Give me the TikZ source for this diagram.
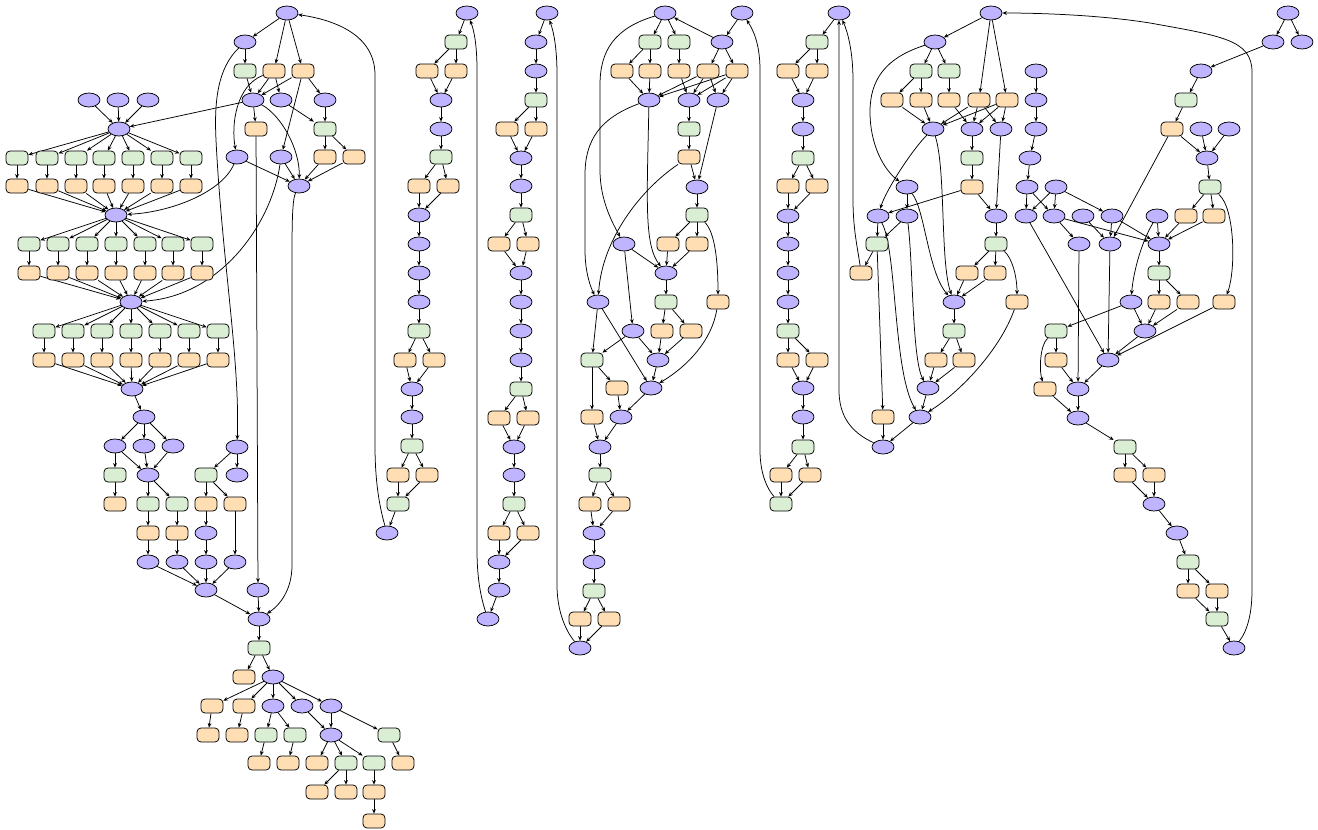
\documentclass[tikz,border=0pt]{standalone}
\usetikzlibrary{shapes.geometric,arrows.meta}
\definecolor{pfill}{RGB}{190,180,255}
\definecolor{gfill}{RGB}{218,238,212}
\definecolor{ofill}{RGB}{255,222,180}
\pgfdeclarelayer{bg}
\pgfsetlayers{bg,main}
\newcommand\mkP[3]{\node[pn] (#1) at (#2,#3) {};}
\newcommand\mkG[3]{\node[gn] (#1) at (#2,#3) {};}
\newcommand\mkO[3]{\node[on] (#1) at (#2,#3) {};}
\begin{document}
\begin{tikzpicture}[x=1pt,y=-1pt,
  pn/.style={ellipse,draw=black,fill=pfill,line width=0.75pt,minimum width=22pt,minimum height=14pt,inner sep=0pt},
  gn/.style={rectangle,rounded corners=4pt,draw=black,fill=gfill,line width=0.75pt,minimum width=22pt,minimum height=14pt,inner sep=0pt},
  on/.style={rectangle,rounded corners=4pt,draw=black,fill=ofill,line width=0.75pt,minimum width=22pt,minimum height=14pt,inner sep=0pt},
  e/.style={-{Stealth[length=4.5pt,width=3.8pt]},line width=0.75pt,black}]
\useasboundingbox (0,0) rectangle (1318,830);
% ---------- left cluster
\mkP{l0}{287}{13}\mkP{l1}{245}{42}\mkG{l2}{245}{71}\mkO{l3}{274}{71}\mkO{l4}{303}{71}
\mkP{l5}{253}{100}\mkP{l6}{281}{100}\mkP{l7}{325}{100}\mkO{l8}{256}{129}\mkG{l9}{325}{129}
\mkP{l10}{237}{157}\mkP{l11}{281}{157}\mkO{l12}{325}{157}\mkO{l13}{354}{157}\mkP{l14}{299}{186}
\mkP{t1}{89}{100}\mkP{t2}{118}{100}\mkP{t3}{148}{100}
\mkP{b1}{119}{129}\mkP{b2}{116}{215}\mkP{b3}{131}{302}\mkP{b4}{132}{389}
\foreach \x [count=\i] in {17,47,76,104,133,162,191}{\mkG{ha\i}{\x}{158}\mkO{hb\i}{\x}{186}}
\foreach \x [count=\i] in {29,58,87,116,145,173,202}{\mkG{hc\i}{\x}{244}\mkO{hd\i}{\x}{273}}
\foreach \x [count=\i] in {44,73,102,131,160,189,218}{\mkG{he\i}{\x}{331}\mkO{hf\i}{\x}{360}}
\mkP{c1}{144}{417}
\mkP{d1}{115}{446}\mkP{d2}{144}{446}\mkP{d3}{173}{446}
\mkG{d4}{115}{475}\mkO{d5}{115}{504}
\mkP{e1}{148}{475}\mkG{e2}{148}{504}\mkG{e3}{177}{504}
\mkO{e4}{148}{533}\mkO{e5}{177}{533}\mkP{e6}{148}{562}\mkP{e7}{177}{562}
\mkP{x0}{237}{447}\mkG{x1}{206}{475}\mkP{x2}{237}{475}
\mkO{x3}{206}{504}\mkO{x4}{235}{504}\mkP{x5}{206}{533}\mkP{x6}{206}{562}\mkP{x7}{235}{562}
\mkP{h0}{206}{590}\mkP{k0}{258}{590}\mkP{j0}{259}{619}\mkG{j1}{259}{648}
\mkO{j2}{244}{677}\mkP{j3}{273}{677}
\mkO{m1}{212}{706}\mkO{m2}{244}{706}\mkP{m3}{273}{706}\mkP{m4}{302}{706}\mkP{m5}{331}{706}
\mkO{n1}{208}{735}\mkO{n2}{237}{735}\mkG{n3}{266}{735}\mkG{n4}{295}{735}\mkP{n5}{331}{735}\mkG{n6}{389}{735}
\mkO{r1}{259}{763}\mkO{r2}{288}{763}\mkO{r3}{317}{763}\mkG{r4}{346}{763}\mkG{r5}{374}{763}\mkO{r6}{403}{763}
\mkO{s1}{317}{792}\mkO{s2}{346}{792}\mkO{s3}{374}{792}\mkO{s4}{374}{821}
% ---------- column 2
\mkP{q0}{467}{13}\mkG{q1}{456}{42}\mkO{q2}{427}{71}\mkO{q3}{456}{71}\mkP{q4}{441}{100}
\mkP{q5}{441}{129}\mkG{q6}{441}{157}\mkO{q7}{419}{186}\mkO{q8}{448}{186}\mkP{q9}{419}{215}
\mkP{q10}{419}{244}\mkP{q11}{419}{273}\mkP{q12}{419}{302}\mkG{q13}{419}{331}
\mkO{q14}{405}{360}\mkO{q15}{434}{360}\mkP{q16}{412}{389}\mkP{q17}{412}{417}\mkG{q18}{412}{446}
\mkO{q19}{398}{475}\mkO{q20}{427}{475}\mkG{q21}{398}{504}\mkP{q22}{387}{533}
% ---------- column 3
\mkP{ca0}{547}{13}\mkP{ca1}{536}{42}\mkP{ca2}{536}{71}\mkG{ca3}{536}{100}
\mkO{ca4}{507}{129}\mkO{ca5}{536}{129}\mkP{ca6}{521}{158}\mkP{ca7}{521}{186}\mkG{ca8}{521}{215}
\mkO{ca9}{499}{244}\mkO{ca10}{528}{244}\mkP{ca11}{521}{273}\mkP{ca12}{521}{302}\mkP{ca13}{521}{331}
\mkP{ca14}{521}{360}\mkG{ca15}{521}{389}\mkO{ca16}{499}{418}\mkO{ca17}{528}{418}
\mkP{ca18}{514}{447}\mkP{ca19}{514}{475}\mkG{ca20}{514}{504}\mkO{ca21}{499}{533}\mkO{ca22}{528}{533}
\mkP{ca23}{499}{562}\mkP{ca24}{499}{590}\mkP{ca25}{488}{619}
% ---------- column 4
\mkP{cb0}{665}{13}\mkP{cb1}{742}{13}\mkG{cb2}{650}{42}\mkG{cb3}{679}{42}\mkP{cb4}{722}{42}
\mkO{cb5}{622}{71}\mkO{cb6}{650}{71}\mkO{cb7}{679}{71}\mkO{cb8}{708}{71}\mkO{cb9}{737}{71}
\mkP{cb10}{649}{100}\mkP{cb11}{689}{100}\mkP{cb12}{718}{100}\mkG{cb13}{689}{129}\mkO{cb14}{689}{157}
\mkP{cb15}{697}{187}\mkG{cb16}{697}{215}\mkO{cb17}{668}{244}\mkO{cb18}{697}{244}\mkP{cb19}{624}{244}
\mkP{cb20}{666}{273}\mkP{cb21}{598}{302}\mkG{cb22}{666}{302}\mkO{cb23}{718}{302}
\mkP{cb24}{633}{331}\mkO{cb25}{662}{331}\mkO{cb26}{691}{331}\mkG{cb27}{592}{360}\mkP{cb28}{658}{360}
\mkO{cb29}{617}{388}\mkP{cb30}{651}{388}\mkO{cb31}{592}{417}\mkP{cb32}{621}{417}
\mkP{cb33}{600}{447}\mkG{cb34}{600}{475}\mkO{cb35}{590}{504}\mkO{cb36}{619}{504}
\mkP{cb37}{594}{533}\mkP{cb38}{594}{562}\mkG{cb39}{594}{591}\mkO{cb40}{580}{619}\mkO{cb41}{609}{619}
\mkP{cb42}{580}{648}
% ---------- column 5
\mkP{cc0}{839}{13}\mkG{cc1}{817}{42}\mkO{cc2}{788}{71}\mkO{cc3}{817}{71}\mkP{cc4}{803}{100}
\mkP{cc5}{803}{129}\mkG{cc6}{803}{158}\mkO{cc7}{788}{186}\mkO{cc8}{817}{186}\mkP{cc9}{788}{216}
\mkP{cc10}{788}{244}\mkP{cc11}{788}{273}\mkP{cc12}{788}{302}\mkG{cc13}{788}{331}
\mkO{cc14}{788}{360}\mkO{cc15}{817}{360}\mkP{cc16}{803}{388}\mkP{cc17}{803}{417}\mkG{cc18}{803}{447}
\mkO{cc19}{781}{475}\mkO{cc20}{810}{475}\mkG{cc21}{781}{504}
% ---------- right cluster
\mkP{cd0}{991}{13}\mkP{cd1}{935}{42}\mkG{cd2}{921}{71}\mkG{cd3}{949}{71}
\mkO{cd4}{892}{100}\mkO{cd5}{921}{100}\mkO{cd6}{949}{100}\mkO{cd7}{979}{100}\mkO{cd8}{1007}{100}
\mkP{cd9}{933}{129}\mkP{cd10}{972}{129}\mkP{cd11}{1001}{129}\mkG{cd12}{972}{158}\mkO{cd13}{972}{187}
\mkP{cd14}{907}{187}\mkP{cd15}{878}{216}\mkP{cd16}{907}{216}\mkP{cd17}{996}{216}
\mkG{cd18}{877}{244}\mkG{cd19}{996}{244}\mkO{cd20}{861}{273}\mkO{cd21}{967}{273}\mkO{cd22}{995}{273}
\mkP{cd23}{954}{302}\mkO{cd24}{1017}{302}\mkG{cd25}{954}{331}\mkO{cd26}{936}{360}\mkO{cd27}{964}{360}
\mkP{cd28}{928}{388}\mkO{cd29}{883}{417}\mkP{cd30}{920}{417}\mkP{cd31}{883}{447}
% ---------- far right
\mkP{ce0}{1036}{71}\mkP{ce1}{1036}{100}\mkP{ce2}{1036}{129}\mkP{ce3}{1030}{158}
\mkP{ce4}{1027}{187}\mkP{ce5}{1056}{187}\mkP{ce6}{1026}{216}\mkP{ce7}{1054}{216}\mkP{ce8}{1083}{216}
\mkP{ce9}{1112}{216}\mkP{ce10}{1157}{216}\mkP{ce11}{1079}{244}\mkP{ce12}{1110}{244}\mkP{ce13}{1159}{244}
\mkG{ce14}{1159}{273}\mkP{ce15}{1131}{302}\mkO{ce16}{1159}{302}\mkO{ce17}{1188}{302}\mkO{ce18}{1224}{302}
\mkG{ce19}{1056}{331}\mkP{ce20}{1145}{331}\mkO{ce21}{1056}{360}\mkP{ce22}{1108}{360}
\mkO{ce23}{1045}{389}\mkP{ce24}{1078}{389}\mkP{ce25}{1078}{418}\mkG{ce26}{1125}{447}
\mkO{ce27}{1125}{475}\mkO{ce28}{1154}{475}\mkP{ce29}{1154}{504}\mkP{ce30}{1177}{533}
\mkG{ce31}{1188}{562}\mkO{ce32}{1188}{591}\mkO{ce33}{1217}{591}\mkG{ce34}{1217}{619}\mkP{ce35}{1234}{648}
\mkP{w0}{1288}{13}\mkP{w1}{1273}{42}\mkP{w2}{1302}{42}\mkP{w3}{1201}{71}\mkG{w4}{1186}{100}
\mkO{w5}{1172}{129}\mkP{w6}{1201}{129}\mkP{w7}{1229}{129}\mkP{w8}{1207}{158}\mkG{w9}{1210}{187}
\mkO{w10}{1186}{216}\mkO{w11}{1214}{216}
% ================= edges
\begin{pgfonlayer}{bg}
\foreach \i in {1,...,7}{
  \draw[e] (b1) -- (ha\i); \draw[e] (ha\i) -- (hb\i); \draw[e] (hb\i) -- (b2);
  \draw[e] (b2) -- (hc\i); \draw[e] (hc\i) -- (hd\i); \draw[e] (hd\i) -- (b3);
  \draw[e] (b3) -- (he\i); \draw[e] (he\i) -- (hf\i); \draw[e] (hf\i) -- (b4);}
\foreach \a/\b in {l0/l1,l0/l3,l0/l4,l1/l2,l2/l5,l3/l5,l4/l5,l3/l6,l4/l7,l4/l11,l5/l8,l5/b1,
  l6/l9,l7/l9,l9/l12,l9/l13,l12/l14,l13/l14,l10/l14,l11/l14,l8/k0,t1/b1,t2/b1,t3/b1,
  b4/c1,c1/d1,c1/d2,c1/d3,d1/d4,d4/d5,d1/e1,d2/e1,d3/e1,e1/e2,e1/e3,e2/e4,e3/e5,e4/e6,e5/e7,
  x0/x1,x0/x2,x1/x3,x1/x4,x3/x5,x5/x6,x4/x7,e6/h0,e7/h0,x6/h0,x7/h0,h0/j0,k0/j0,j0/j1,
  j1/j2,j1/j3,j3/m1,j3/m2,j3/m3,j3/m4,j3/m5,m1/n1,m2/n2,m3/n3,m3/n4,m4/n5,m5/n5,m5/n6,
  n3/r1,n4/r2,n5/r3,n5/r4,n5/r5,n6/r6,r4/s1,r4/s2,r5/s3,s3/s4}
  \draw[e] (\a) -- (\b);
\foreach \a/\b in {q0/q1,q1/q2,q1/q3,q2/q4,q3/q4,q4/q5,q5/q6,q6/q7,q6/q8,q7/q9,q8/q9,q9/q10,
  q10/q11,q11/q12,q12/q13,q13/q14,q13/q15,q14/q16,q15/q16,q16/q17,q17/q18,q18/q19,q18/q20,
  q19/q21,q20/q21,q21/q22,
  ca0/ca1,ca1/ca2,ca2/ca3,ca3/ca4,ca3/ca5,ca4/ca6,ca5/ca6,ca6/ca7,ca7/ca8,ca8/ca9,ca8/ca10,
  ca9/ca11,ca10/ca11,ca11/ca12,ca12/ca13,ca13/ca14,ca14/ca15,ca15/ca16,ca15/ca17,ca16/ca18,
  ca17/ca18,ca18/ca19,ca19/ca20,ca20/ca21,ca20/ca22,ca21/ca23,ca22/ca23,ca23/ca24,ca24/ca25}
  \draw[e] (\a) -- (\b);
\foreach \a/\b in {cb0/cb2,cb0/cb3,cb1/cb4,cb4/cb0,cb4/cb8,cb4/cb9,cb2/cb5,cb2/cb6,cb3/cb7,
  cb5/cb10,cb6/cb10,cb7/cb11,cb8/cb10,cb8/cb11,cb8/cb12,cb9/cb10,cb9/cb11,cb9/cb12,cb11/cb13,
  cb13/cb14,cb14/cb15,cb12/cb15,cb15/cb16,cb16/cb17,cb16/cb18,cb19/cb20,cb17/cb20,cb18/cb20,
  cb20/cb22,cb19/cb24,cb21/cb27,cb21/cb30,cb22/cb25,cb22/cb26,cb24/cb27,cb24/cb28,cb25/cb28,
  cb26/cb28,cb28/cb30,cb27/cb31,cb27/cb29,cb29/cb32,cb30/cb32,cb31/cb33,cb32/cb33,cb33/cb34,
  cb34/cb35,cb34/cb36,cb35/cb37,cb36/cb37,cb37/cb38,cb38/cb39,cb39/cb40,cb39/cb41,cb40/cb42,
  cb41/cb42,
  cc0/cc1,cc1/cc2,cc1/cc3,cc2/cc4,cc3/cc4,cc4/cc5,cc5/cc6,cc6/cc7,cc6/cc8,cc7/cc9,cc8/cc9,
  cc9/cc10,cc10/cc11,cc11/cc12,cc12/cc13,cc13/cc14,cc13/cc15,cc14/cc16,cc15/cc16,cc16/cc17,
  cc17/cc18,cc18/cc19,cc18/cc20,cc19/cc21,cc20/cc21}
  \draw[e] (\a) -- (\b);
\foreach \a/\b in {cd0/cd1,cd0/cd7,cd0/cd8,cd1/cd2,cd1/cd3,cd2/cd4,cd2/cd5,cd3/cd6,cd4/cd9,
  cd5/cd9,cd6/cd10,cd7/cd9,cd7/cd10,cd7/cd11,cd8/cd9,cd8/cd10,cd8/cd11,cd10/cd12,cd12/cd13,
  cd13/cd15,cd13/cd17,cd11/cd17,cd14/cd16,cd15/cd18,cd16/cd18,cd17/cd19,cd19/cd21,cd19/cd22,
  cd21/cd23,cd22/cd23,cd23/cd25,cd25/cd26,cd25/cd27,cd26/cd28,cd27/cd28,cd28/cd30,cd18/cd20,
  cd18/cd29,cd29/cd31,cd30/cd31,
  w0/w1,w0/w2,w1/w3,w3/w4,w4/w5,w5/w8,w6/w8,w7/w8,w5/ce12,w8/w9,w9/w10,w9/w11,w10/ce13,
  w11/ce13,ce0/ce1,ce1/ce2,ce2/ce3,ce3/ce4,ce4/ce6,ce4/ce7,ce5/ce6,ce5/ce7,ce5/ce9,ce6/ce22,
  ce7/ce11,ce7/ce13,ce8/ce12,ce9/ce12,ce9/ce13,ce10/ce13,ce11/ce24,ce12/ce22,ce13/ce14,
  ce14/ce16,ce14/ce17,ce15/ce20,ce16/ce20,ce17/ce20,ce15/ce19,ce20/ce22,ce18/ce22,ce19/ce21,
  ce21/ce24,ce22/ce24,ce24/ce25,ce23/ce25,ce25/ce26,ce26/ce27,ce26/ce28,ce27/ce29,ce28/ce29,
  ce29/ce30,ce30/ce31,ce31/ce32,ce31/ce33,ce32/ce34,ce33/ce34,ce34/ce35}
  \draw[e] (\a) -- (\b);
% curved connectors
\draw[e] (l3) .. controls (236,86) and (231,125) .. (l10);
\draw[e] (l1) .. controls (218,68) and (214,100) .. (216,140) .. controls (222,260) and (240,360) .. (x0);
\draw[e] (l5) .. controls (282,116) and (300,150) .. (l14);
\draw[e] (l10) .. controls (222,192) and (172,212) .. (b2);
\draw[e] (l11) .. controls (272,222) and (222,296) .. (b3);
\draw[e] (l14) .. controls (292,200) and (292,230) .. (292,260) -- (292,565) .. controls (292,590) and (280,605) .. (j0);
\draw[e] (q22) .. controls (379,505) and (375,480) .. (375,445) -- (375,75) .. controls (375,35) and (335,20) .. (l0);
\draw[e] (ca25) .. controls (480,595) and (477,575) .. (477,550) -- (477,70) .. controls (477,45) and (474,30) .. (q0);
\draw[e] (cb42) .. controls (565,630) and (557,610) .. (557,585) -- (557,75) .. controls (557,45) and (553,30) .. (ca0);
\draw[e] (cc21) .. controls (768,490) and (760,475) .. (760,450) -- (760,70) .. controls (760,42) and (752,28) .. (cb1);
\draw[e] (cb0) .. controls (615,28) and (600,50) .. (600,85) -- (600,170) .. controls (600,200) and (612,222) .. (cb19);
\draw[e] (cb10) .. controls (600,118) and (585,140) .. (585,175) -- (585,250) .. controls (585,275) and (592,290) .. (cb21);
\draw[e] (cb10) .. controls (647,200) and (644,245) .. (cb20);
\draw[e] (cb14) .. controls (640,190) and (602,240) .. (cb21);
\draw[e] (cb16) .. controls (715,232) and (718,262) .. (cb23);
\draw[e] (cb23) .. controls (712,340) and (688,366) .. (cb30);
\draw[e] (cd1) .. controls (885,58) and (870,80) .. (870,112) .. controls (870,145) and (884,170) .. (cd14);
\draw[e] (cd9) .. controls (912,150) and (886,190) .. (cd15);
\draw[e] (cd9) .. controls (946,170) and (940,262) .. (cd23);
\draw[e] (cd14) .. controls (925,210) and (928,272) .. (cd23);
\draw[e] (cd15) .. controls (897,250) and (893,372) .. (cd30);
\draw[e] (cd16) .. controls (913,262) and (912,360) .. (cd28);
\draw[e] (cd19) .. controls (1012,258) and (1017,276) .. (cd24);
\draw[e] (cd24) .. controls (1000,350) and (960,392) .. (cd30);
\draw[e] (cd31) .. controls (850,432) and (839,415) .. (839,390) -- (cc0);
\draw[e] (cd20) .. controls (858,250) and (853,230) .. (853,200) -- (853,80) .. controls (853,50) and (847,30) .. (cc0);
\draw[e] (ce35) .. controls (1248,630) and (1252,612) .. (1252,590) -- (1252,72) .. controls (1252,40) and (1222,36) .. (1150,23) .. controls (1100,15) and (1040,13) .. (cd0);
\draw[e] (w9) .. controls (1235,208) and (1236,270) .. (ce18);
\draw[e] (ce10) .. controls (1140,245) and (1133,275) .. (ce15);
\draw[e] (ce19) .. controls (1040,345) and (1039,370) .. (ce23);
\end{pgfonlayer}
\end{tikzpicture}
\end{document}
